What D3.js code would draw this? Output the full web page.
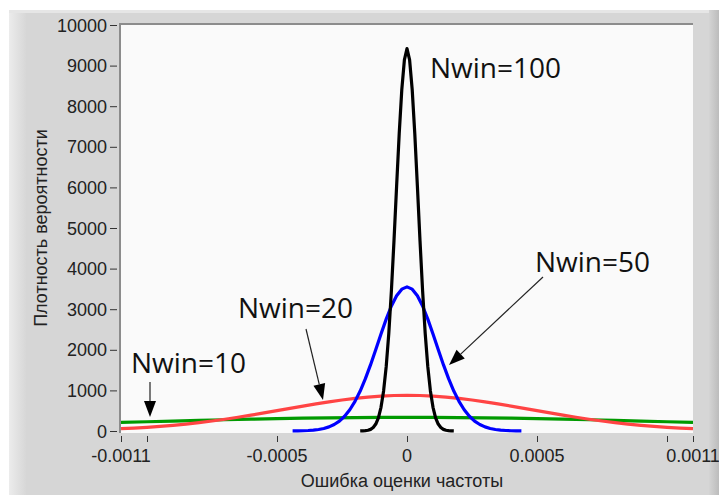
<!DOCTYPE html>
<html>
<head>
<meta charset="utf-8">
<script src="https://cdn.jsdelivr.net/npm/d3@7"></script>
<style>
  html, body { margin: 0; padding: 0; background: #ffffff; }
  svg { display: block; }
</style>
</head>
<body>
<svg id="chart" width="719" height="495"></svg>
<script>
// ---- data ----
const xTicks = [-0.0011, -0.001, -0.0005, 0, 0.0005, 0.001, 0.0011];
const xTickLabels = ["-0.0011", "", "-0.0005", "0", "0.0005", "", "0.0011"];
const yTicks = [0, 1000, 2000, 3000, 4000, 5000, 6000, 7000, 8000, 9000, 10000];
const yTickLabels = ["0", "1000", "2000", "3000", "4000", "5000", "6000", "7000", "8000", "9000", "10000"];

const nwin10X = [-0.0011, -0.001, -0.0009, -0.0008, -0.0007, -0.0006, -0.0005, -0.0004, -0.0003, -0.0002, -0.0001, 0,
                 0.0001, 0.0002, 0.0003, 0.0004, 0.0005, 0.0006, 0.0007, 0.0008, 0.0009, 0.001, 0.0011];
const nwin10Y = [210, 228, 245, 262, 277, 292, 304, 315, 324, 330, 334, 335,
                 334, 330, 324, 315, 304, 292, 277, 262, 245, 228, 210];

const nwin20X = [-0.0011, -0.00105, -0.001, -0.00095, -0.0009, -0.00085, -0.0008, -0.00075, -0.0007, -0.00065, -0.0006,
                 -0.00055, -0.0005, -0.00045, -0.0004, -0.00035, -0.0003, -0.00025, -0.0002, -0.00015, -0.0001, -0.00005, 0,
                 0.00005, 0.0001, 0.00015, 0.0002, 0.00025, 0.0003, 0.00035, 0.0004, 0.00045, 0.0005, 0.00055,
                 0.0006, 0.00065, 0.0007, 0.00075, 0.0008, 0.00085, 0.0009, 0.00095, 0.001, 0.00105, 0.0011];
const nwin20Y = [57, 73, 91, 114, 140, 171, 206, 246, 290, 339, 390,
                 445, 500, 557, 614, 667, 718, 764, 804, 836, 860, 875, 880,
                 875, 860, 836, 804, 764, 718, 667, 614, 557, 500, 445,
                 390, 339, 290, 246, 206, 171, 140, 114, 91, 73, 57];

const nwin50X = [-0.00044, -0.00042, -0.0004, -0.00038, -0.00036, -0.00034, -0.00032, -0.0003, -0.00028, -0.00026, -0.00024,
                 -0.00022, -0.0002, -0.00018, -0.00016, -0.00014, -0.00012, -0.0001, -0.00008, -0.00006, -0.00004, -0.00002, 0,
                 0.00002, 0.00004, 0.00006, 0.00008, 0.0001, 0.00012, 0.00014, 0.00016, 0.00018, 0.0002, 0.00022,
                 0.00024, 0.00026, 0.00028, 0.0003, 0.00032, 0.00034, 0.00036, 0.00038, 0.0004, 0.00042, 0.00044];
const nwin50Y = [2, 3, 6, 12, 21, 37, 62, 101, 160, 245, 364,
                 523, 729, 985, 1289, 1634, 2008, 2390, 2756, 3079, 3332, 3494, 3550,
                 3494, 3332, 3079, 2756, 2390, 2008, 1634, 1289, 985, 729, 523,
                 364, 245, 160, 101, 62, 37, 21, 12, 6, 3, 2];

const nwin100X = [-0.00018, -0.00017, -0.00016, -0.00015, -0.00014, -0.00013, -0.00012, -0.00011, -0.0001, -0.00009,
                  -0.00008, -0.00007, -0.00006, -0.00005, -0.00004, -0.00003, -0.00002, -0.00001, 0,
                  0.00001, 0.00002, 0.00003, 0.00004, 0.00005, 0.00006, 0.00007, 0.00008, 0.00009,
                  0.0001, 0.00011, 0.00012, 0.00013, 0.00014, 0.00015, 0.00016, 0.00017, 0.00018];
const nwin100Y = [1, 3, 8, 18, 40, 86, 171, 325, 583, 988,
                  1585, 2405, 3454, 4690, 6024, 7319, 8410, 9142, 9420,
                  9142, 8410, 7319, 6024, 4690, 3454, 2405, 1585, 988,
                  583, 325, 171, 86, 40, 18, 8, 3, 1];

const seriesNames = ["Nwin=10", "Nwin=20", "Nwin=50", "Nwin=100"];
const seriesColors = ["#009a00", "#ff4444", "#0000ff", "#000000"];

const xTitle = "Ошибка оценки частоты";
const yTitle = "Плотность вероятности";

// ---- drawing ----
const svg = d3.select("#chart");
const W = 719, H = 495;
const plot = { left: 121, right: 693, top: 25, bottom: 433 };

const x = d3.scaleLinear().domain([-0.0011, 0.0011]).range([121, 693]);
const y = d3.scaleLinear().domain([0, 10000]).range([431, 25]);

const defs = svg.append("defs");
const gl = defs.append("linearGradient").attr("id", "leftStrip").attr("x1", 0).attr("x2", 1).attr("y1", 0).attr("y2", 0);
gl.append("stop").attr("offset", 0).attr("stop-color", "#ececec");
gl.append("stop").attr("offset", 1).attr("stop-color", "#d7d7d7");
const gr = defs.append("linearGradient").attr("id", "rightStrip").attr("x1", 0).attr("x2", 1).attr("y1", 0).attr("y2", 0);
gr.append("stop").attr("offset", 0).attr("stop-color", "#d4d4d4");
gr.append("stop").attr("offset", 1).attr("stop-color", "#bcbcbc");

// panel
svg.append("rect").attr("x", 0).attr("y", 0).attr("width", W).attr("height", H).attr("fill", "#ffffff");
svg.append("rect").attr("x", 9).attr("y", 10).attr("width", W - 9).attr("height", H - 10).attr("fill", "#d6d6d6");
svg.append("rect").attr("x", 9).attr("y", 10).attr("width", 17).attr("height", H - 10).attr("fill", "url(#leftStrip)");
svg.append("rect").attr("x", 9).attr("y", 10).attr("width", W - 9).attr("height", 3).attr("fill", "#e6e6e6");
svg.append("rect").attr("x", 709).attr("y", 10).attr("width", 10).attr("height", H - 10).attr("fill", "url(#rightStrip)");

// plot area
svg.append("rect").attr("x", plot.left).attr("y", plot.top)
  .attr("width", plot.right - plot.left).attr("height", plot.bottom - plot.top).attr("fill", "#fafafa");
svg.append("line").attr("x1", 119).attr("x2", plot.right).attr("y1", 24).attr("y2", 24)
  .attr("stroke", "#8c8c8c").attr("stroke-width", 2);
svg.append("line").attr("x1", 120).attr("x2", 120).attr("y1", 23).attr("y2", plot.bottom)
  .attr("stroke", "#8c8c8c").attr("stroke-width", 2);

const fontTick = "'Liberation Sans', Arial, sans-serif";

// y axis ticks
const yAxis = svg.append("g");
yTicks.forEach((t, i) => {
  yAxis.append("line").attr("x1", 110).attr("x2", 117).attr("y1", y(t) + 0.5).attr("y2", y(t) + 0.5)
    .attr("stroke", "#333").attr("stroke-width", 1);
  yAxis.append("text").attr("x", 107).attr("y", y(t) + 6.5).attr("text-anchor", "end")
    .attr("font-family", fontTick).attr("font-size", 18).attr("fill", "#222").text(yTickLabels[i]);
});

// x axis ticks
const xAxis = svg.append("g");
xTicks.forEach((t, i) => {
  xAxis.append("line").attr("x1", Math.round(x(t)) + 0.5).attr("x2", Math.round(x(t)) + 0.5).attr("y1", 436).attr("y2", 442)
    .attr("stroke", "#333").attr("stroke-width", 1);
  if (xTickLabels[i]) {
    xAxis.append("text").attr("x", x(t)).attr("y", 462).attr("text-anchor", "middle")
      .attr("font-family", fontTick).attr("font-size", 18).attr("fill", "#222").text(xTickLabels[i]);
  }
});

// axis titles
svg.append("text").attr("x", 402).attr("y", 487).attr("text-anchor", "middle")
  .attr("font-family", fontTick).attr("font-size", 18).attr("fill", "#222").text(xTitle);
svg.append("text").attr("transform", "translate(47,228) rotate(-90)").attr("text-anchor", "middle")
  .attr("font-family", fontTick).attr("font-size", 18).attr("fill", "#222").text(yTitle);

// curves
const seriesX = [nwin10X, nwin20X, nwin50X, nwin100X];
const seriesY = [nwin10Y, nwin20Y, nwin50Y, nwin100Y];
const line = d3.line().x(d => x(d[0])).y(d => y(d[1]));
const clip = defs.append("clipPath").attr("id", "plotClip");
clip.append("rect").attr("x", plot.left).attr("y", plot.top).attr("width", plot.right - plot.left).attr("height", plot.bottom - plot.top);
const curves = svg.append("g").attr("clip-path", "url(#plotClip)");
seriesX.forEach((xs, s) => {
  const pts = xs.map((v, i) => [v, seriesY[s][i]]);
  curves.append("path").attr("d", line(pts)).attr("fill", "none")
    .attr("stroke", seriesColors[s]).attr("stroke-width", 3.2).attr("stroke-linejoin", "round");
});

// annotations
const fontAnn = "'Open Sans', 'Liberation Sans', sans-serif";
const annotations = [
  { text: seriesNames[3], tx: 430, ty: 78 },
  { text: seriesNames[2], tx: 535, ty: 272 },
  { text: seriesNames[1], tx: 238, ty: 318 },
  { text: seriesNames[0], tx: 131, ty: 373 }
];
annotations.forEach(a => {
  svg.append("text").attr("x", a.tx).attr("y", a.ty).attr("font-family", fontAnn).attr("font-size", 28)
    .attr("fill", "#111").text(a.text);
});

const arrows = [
  { x1: 543, y1: 277, x2: 449, y2: 365 },
  { x1: 306, y1: 329, x2: 323, y2: 400 },
  { x1: 150, y1: 382, x2: 150, y2: 417 }
];
arrows.forEach(a => {
  const dx = a.x2 - a.x1, dy = a.y2 - a.y1, L = Math.hypot(dx, dy);
  const ux = dx / L, uy = dy / L, hl = 16, hw = 6;
  const bx = a.x2 - ux * hl, by = a.y2 - uy * hl;
  svg.append("line").attr("x1", a.x1).attr("y1", a.y1).attr("x2", bx).attr("y2", by)
    .attr("stroke", "#222").attr("stroke-width", 1.2);
  svg.append("path").attr("d", `M${a.x2},${a.y2} L${bx - uy * hw},${by + ux * hw} L${bx + uy * hw},${by - ux * hw} Z`)
    .attr("fill", "#000");
});
</script>
</body>
</html>
